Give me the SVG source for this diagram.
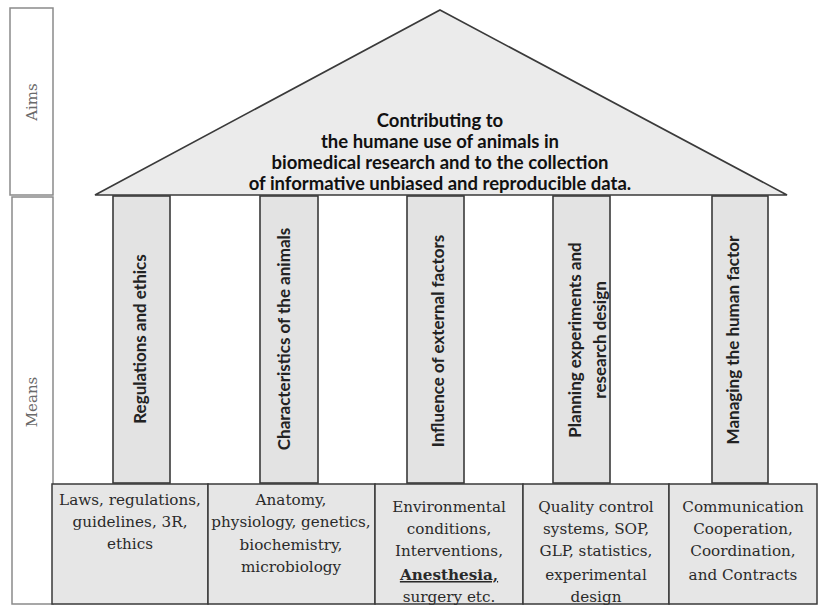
<svg xmlns="http://www.w3.org/2000/svg" width="818" height="607" viewBox="0 0 818 607">
<style>
.frame{fill:#ffffff;stroke:#8a8a8a;stroke-width:1.5}
.side{font-family:"DejaVu Serif","Liberation Serif",serif;font-size:15px;fill:#6a6a6a;text-anchor:middle;dominant-baseline:central}
.roof{fill:#ebebeb;stroke:#3a3a3a;stroke-width:1.6}
.pillar{fill:#e3e3e3;stroke:#3a3a3a;stroke-width:1.6}
.base{fill:#e6e6e6;stroke:#3a3a3a;stroke-width:1.5}
.title{font-family:Lato,"Open Sans",sans-serif;font-weight:bold;font-size:18.5px;fill:#111;text-anchor:middle}
.pl{font-family:Lato,"Open Sans",sans-serif;font-weight:bold;font-size:17px;fill:#222;text-anchor:middle;dominant-baseline:central}
.bt{font-family:"DejaVu Serif","Liberation Serif",serif;font-size:15.2px;fill:#2a2a2a;text-anchor:middle}
</style>
<rect width="818" height="607" fill="#ffffff"/>
<g id="aims">
<rect class="frame" x="10" y="8" width="43" height="187"/>
<text class="side" transform="translate(32,102) rotate(-90)">Aims</text>
</g>
<g id="means">
<rect class="frame" x="12" y="197" width="41" height="407"/>
<text class="side" transform="translate(32,402) rotate(-90)">Means</text>
</g>
<g id="roof">
<polygon class="roof" points="440,10 787,195 95,195"/>
<text class="title" x="440" y="127">Contributing to</text>
<text class="title" x="440" y="148">the humane use of animals in</text>
<text class="title" x="440" y="169">biomedical research and to the collection</text>
<text class="title" x="440" y="190">of informative unbiased and reproducible data.</text>
</g>
<g id="pillar1">
<rect class="pillar" x="113" y="196" width="57" height="287"/>
<text class="pl" transform="translate(139,339) rotate(-90)">Regulations and ethics</text>
</g>
<g id="pillar2">
<rect class="pillar" x="260" y="196" width="58" height="287"/>
<text class="pl" transform="translate(283,339) rotate(-90)">Characteristics of the animals</text>
</g>
<g id="pillar3">
<rect class="pillar" x="407" y="196" width="57" height="287"/>
<text class="pl" transform="translate(437,341) rotate(-90)">Influence of external factors</text>
</g>
<g id="pillar4">
<rect class="pillar" x="553" y="196" width="57" height="287"/>
<text class="pl" transform="translate(574,340) rotate(-90)">Planning experiments and</text>
<text class="pl" transform="translate(599,340) rotate(-90)">research design</text>
</g>
<g id="pillar5">
<rect class="pillar" x="712" y="196" width="56" height="287"/>
<text class="pl" transform="translate(732,340) rotate(-90)">Managing the human factor</text>
</g>
<g id="box1">
<rect class="base" x="52" y="484" width="156" height="120"/>
<text class="bt" x="130" y="505">Laws, regulations,</text>
<text class="bt" x="130" y="527">guidelines, 3R,</text>
<text class="bt" x="130" y="549">ethics</text>
</g>
<g id="box2">
<rect class="base" x="208" y="484" width="167" height="120"/>
<text class="bt" x="291" y="505">Anatomy,</text>
<text class="bt" x="291" y="527">physiology, genetics,</text>
<text class="bt" x="291" y="550">biochemistry,</text>
<text class="bt" x="291" y="572">microbiology</text>
</g>
<g id="box3">
<rect class="base" x="375" y="484" width="148" height="120"/>
<text class="bt" x="449" y="512">Environmental</text>
<text class="bt" x="449" y="534">conditions,</text>
<text class="bt" x="449" y="556">Interventions,</text>
<text class="bt" x="449" y="580" font-weight="bold" text-decoration="underline">Anesthesia,</text>
<text class="bt" x="449" y="602">surgery etc.</text>
</g>
<g id="box4">
<rect class="base" x="523" y="484" width="146" height="120"/>
<text class="bt" x="596" y="512">Quality control</text>
<text class="bt" x="596" y="534">systems, SOP,</text>
<text class="bt" x="596" y="556">GLP, statistics,</text>
<text class="bt" x="596" y="580">experimental</text>
<text class="bt" x="596" y="602">design</text>
</g>
<g id="box5">
<rect class="base" x="669" y="484" width="148" height="120"/>
<text class="bt" x="743" y="512">Communication</text>
<text class="bt" x="743" y="534">Cooperation,</text>
<text class="bt" x="743" y="556">Coordination,</text>
<text class="bt" x="743" y="580">and Contracts</text>
</g>
<g id="connectors"></g>
</svg>
